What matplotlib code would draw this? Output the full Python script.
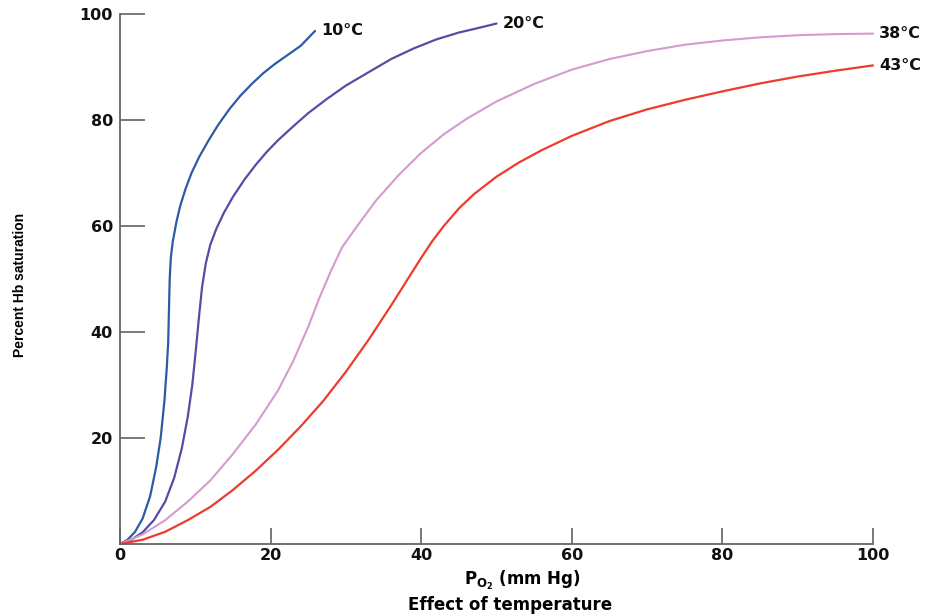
import matplotlib
matplotlib.use("Agg")
import matplotlib.pyplot as plt

# ---- data ----
x_10 = [0, 1, 2, 3, 4, 4.8, 5.4, 5.9, 6.2, 6.4, 6.5, 6.6, 6.75, 7.0, 7.5, 8.0, 8.7, 9.5, 10.5,
        11.7, 13, 14.5, 16, 17.5, 19, 20.5, 22, 24, 25.9]
y_10 = [0, 0.8, 2.3, 4.8, 9, 14.5, 20, 27, 33, 38, 44, 50, 54, 57, 60.8, 63.8, 67, 70, 73,
        76, 79, 82, 84.6, 86.8, 88.8, 90.5, 92, 94, 96.8]

x_20 = [0, 1.5, 3, 4.5, 6, 7.2, 8.2, 9, 9.6, 10.1, 10.5, 10.9, 11.4, 12.0, 12.8, 13.8, 15, 16.5,
        18, 19.5, 21, 23, 25, 27.5, 30, 33, 36, 39, 42, 45, 48, 50]
y_20 = [0, 0.8, 2.2, 4.5, 8, 12.5, 18, 24, 30, 37, 43, 48.5, 53, 56.5, 59.5, 62.5, 65.5, 68.7,
        71.5, 74, 76.2, 78.8, 81.3, 84, 86.5, 89, 91.5, 93.5, 95.2, 96.5, 97.5, 98.2]

x_38 = [0, 3, 6, 9, 12, 15, 18, 21, 23, 25, 26.5, 28, 29.5, 31.5, 34, 37, 40, 43, 46, 50, 55,
        60, 65, 70, 75, 80, 85, 90, 95, 100]
y_38 = [0, 1.8, 4.5, 8, 12, 17, 22.5, 29, 34.5, 41, 46.5, 51.5, 56, 60, 64.8, 69.6, 73.8,
        77.3, 80.2, 83.5, 86.8, 89.5, 91.5, 93.0, 94.2, 95.0, 95.6, 96.0, 96.2, 96.3]

x_43 = [0, 3, 6, 9, 12, 15, 18, 21, 24, 27, 30, 33, 36, 38, 40, 41.5, 43, 45, 47, 50, 53, 56,
        60, 65, 70, 75, 80, 85, 90, 95, 100]
y_43 = [0, 0.8, 2.3, 4.5, 7, 10.2, 13.8, 17.8, 22.2, 27, 32.5, 38.5, 45, 49.5, 54, 57.2, 60,
        63.3, 66, 69.3, 72, 74.3, 77, 79.8, 82, 83.8, 85.4, 86.9, 88.2, 89.3, 90.3]

series = [
    ("10°C", x_10, y_10, "#2b5ca3", 1.6),
    ("20°C", x_20, y_20, "#5b4aa5", 1.6),
    ("38°C", x_38, y_38, "#d49bce", 1.5),
    ("43°C", x_43, y_43, "#ee3b2c", 1.6),
]

x_ticks = [0, 20, 40, 60, 80, 100]
y_ticks = [20, 40, 60, 80, 100]

# ---- figure ----
fig = plt.figure(figsize=(9.32, 6.16), dpi=100)
ax = fig.add_axes([120 / 932, 1 - 544 / 616, 753 / 932, 530 / 616])

for name, xs, ys, col, lw in series:
    ax.plot(xs, ys, color=col, lw=lw, solid_capstyle="round", solid_joinstyle="round",
            clip_on=False)
    ax.text(xs[-1] + 0.8, ys[-1], name, fontsize=11.5, fontweight="bold",
            family="DejaVu Sans", ha="left", va="center", color="#111111")

ax.set_xlim(0, 100)
ax.set_ylim(0, 100)
for s in ("top", "right"):
    ax.spines[s].set_visible(False)
for s in ("left", "bottom"):
    ax.spines[s].set_color("#666666")
    ax.spines[s].set_linewidth(1.3)

ax.set_xticks(x_ticks)
ax.set_xticklabels([str(v) for v in x_ticks])
ax.set_yticks(y_ticks)
ax.set_yticklabels([str(v) for v in y_ticks])
ax.tick_params(axis="x", direction="in", length=11.5, width=1.1, color="#555555",
               pad=3, labelsize=11.5)
ax.tick_params(axis="y", direction="in", length=18, width=1.1, color="#555555",
               pad=5, labelsize=11.5)
for lab in ax.get_xticklabels() + ax.get_yticklabels():
    lab.set_fontweight("bold")
    lab.set_family("DejaVu Sans")
    lab.set_color("#111111")

fig.text(20 / 932, 1 - 285 / 616, "Percent Hb saturation", rotation=90,
         ha="center", va="center", fontsize=10, fontweight="bold",
         family=["Liberation Sans Narrow", "Liberation Sans", "DejaVu Sans"])
fig.text(522 / 932, 1 - 580 / 616, r"P$_{\mathbf{O_2}}$ (mm Hg)", ha="center", va="center",
         fontsize=12, fontweight="bold", family="DejaVu Sans")
fig.text(510 / 932, 1 - 605 / 616, "Effect of temperature", ha="center", va="center",
         fontsize=12, fontweight="bold", family="DejaVu Sans")

fig.savefig("out.png", dpi=100)
